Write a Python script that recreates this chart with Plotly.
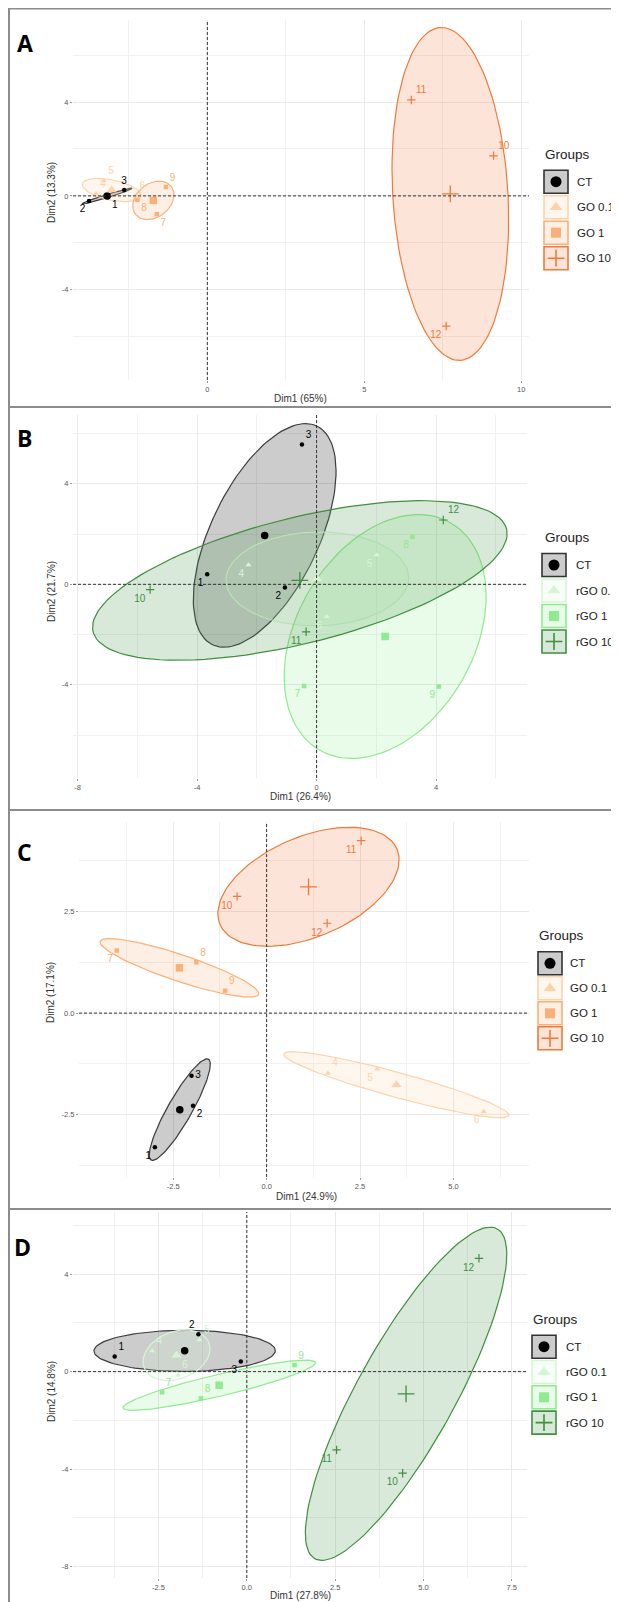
import numpy as np
import plotly.graph_objects as go

W, H = 619, 1602          # page (reference) size
OFF = 8                   # browser body margin
WF, HF = W - OFF, H - OFF  # figure size so that the page is filled exactly

# ---------------- data ----------------
CT_labels = ["1", "2", "3"]
T01_labels = ["4", "5", "6"]
T1_labels = ["7", "8", "9"]
T10_labels = ["10", "11", "12"]

GO_groups = ["CT", "GO 0.1", "GO 1", "GO 10"]
RGO_groups = ["CT", "rGO 0.1", "rGO 1", "rGO 10"]

# Panel A  (GO, Dim1 65%, Dim2 13.3%)
A_ct_x = [-3.16, -3.77, -2.65]
A_ct_y = [-0.05, -0.22, 0.25]
A_go01_x = [-3.55, -3.30, -2.30]
A_go01_y = [0.10, 0.65, 0.00]
A_go1_x = [-1.61, -2.23, -1.32]
A_go1_y = [-0.78, -0.17, 0.38]
A_go10_x = [9.12, 6.50, 7.61]
A_go10_y = [1.71, 4.09, -5.55]

# Panel B  (rGO, Dim1 26.4%, Dim2 21.7%)
B_ct_x = [-3.66, -1.06, -0.49]
B_ct_y = [0.40, -0.13, 5.57]
B_rgo01_x = [-2.28, 2.01, 0.34]
B_rgo01_y = [0.77, 1.17, -1.29]
B_rgo1_x = [-0.42, 3.21, 4.09]
B_rgo1_y = [-4.05, 1.89, -4.07]
B_rgo10_x = [-5.57, -0.35, 4.24]
B_rgo10_y = [-0.21, -1.89, 2.56]

# Panel C  (GO, Dim1 24.9%, Dim2 17.1%)
C_ct_x = [-2.99, -1.97, -2.01]
C_ct_y = [-3.30, -2.28, -1.54]
C_go01_x = [1.64, 2.96, 5.81]
C_go01_y = [-1.48, -1.38, -2.42]
C_go1_x = [-4.01, -1.88, -1.11]
C_go1_y = [1.54, 1.25, 0.55]
C_go10_x = [-0.79, 2.53, 1.62]
C_go10_y = [2.87, 4.24, 2.21]

# Panel D  (rGO, Dim1 27.8%, Dim2 14.8%)
D_ct_x = [-3.74, -1.37, -0.17]
D_ct_y = [0.62, 1.53, 0.41]
D_rgo01_x = [-2.68, -1.34, -1.95]
D_rgo01_y = [0.85, 1.30, -0.14]
D_rgo1_x = [-2.40, -1.30, 1.35]
D_rgo1_y = [-0.85, -1.10, 0.27]
D_rgo10_x = [4.41, 2.54, 6.57]
D_rgo10_y = [-4.17, -3.21, 4.65]

# tick labels
A_xticks = [0, 5, 10]
A_xtext = ["0", "5", "10"]
A_yticks = [-4, 0, 4]
A_ytext = ["-4", "0", "4"]
B_xticks = [-8, -4, 0, 4]
B_xtext = ["-8", "-4", "0", "4"]
B_yticks = [-4, 0, 4]
B_ytext = ["-4", "0", "4"]
C_xticks = [-2.5, 0, 2.5, 5]
C_xtext = ["-2.5", "0.0", "2.5", "5.0"]
C_yticks = [-2.5, 0, 2.5]
C_ytext = ["-2.5", "0.0", "2.5"]
D_xticks = [-2.5, 0, 2.5, 5, 7.5]
D_xtext = ["-2.5", "0.0", "2.5", "5.0", "7.5"]
D_yticks = [-8, -4, 0, 4]
D_ytext = ["-8", "-4", "0", "4"]

# ---------------- styles ----------------
GO_colors = ["#000000", "#fdd3ac", "#fbb077", "#ef7a3b"]
RGO_colors = ["#000000", "#d6f5d6", "#90ea90", "#3f8f3f"]
SYMBOLS = ["circle", "triangle-up", "square", "cross-thin"]
PT_SIZE = [4.5, 5.5, 4.5, 6]
MEAN_SIZE = [7.5, 9, 7.5, 12]
KEY_SIZE = [11, 11, 10, 12]
FONT = "Liberation Sans, Arial, sans-serif"

R_CONF = np.sqrt(5.991464547107979 / 3.0)  # 95% confidence ellipse, n = 3


def rgba(hexc, a):
    h = hexc.lstrip("#")
    r, g, b = int(h[0:2], 16), int(h[2:4], 16), int(h[4:6], 16)
    return f"rgba({r},{g},{b},{a})"


def conf_ellipse(x, y, r=R_CONF, n=120):
    x = np.asarray(x, float)
    y = np.asarray(y, float)
    m = np.array([x.mean(), y.mean()])
    cov = np.cov(np.vstack([x, y]))
    vals, vecs = np.linalg.eigh(cov)
    vals = np.clip(vals, 0, None)
    t = np.linspace(0, 2 * np.pi, n)
    circ = np.vstack([np.cos(t), np.sin(t)])
    pts = vecs @ (np.sqrt(vals)[:, None] * circ) * r + m[:, None]
    return pts[0], pts[1]


def PX(px):
    return (px - OFF) / WF


def PY(py):
    return 1 - (py - OFF) / HF


panels = [
    dict(letter="A", letter_pos=(25, 43), box=(73, 20, 529, 380),
         xr=[-4.28, 10.25], yr=[-7.85, 7.50],
         groups=GO_groups, colors=GO_colors,
         data=[(A_ct_x, A_ct_y), (A_go01_x, A_go01_y), (A_go1_x, A_go1_y), (A_go10_x, A_go10_y)],
         labels=[CT_labels, T01_labels, T1_labels, T10_labels],
         labpos=[["bottom right", "bottom left", "top center"],
                 ["top right", "top right", "top right"],
                 ["bottom right", "bottom right", "top right"],
                 ["top right", "top right", "bottom left"]],
         xt=(A_xticks, A_xtext), yt=(A_yticks, A_ytext), xminor=2.5, yminor=2,
         xtitle="Dim1 (65%)", ytitle="Dim2 (13.3%)", xtp=(300, 398), ytp=(51, 193),
         leg=dict(title=(543, 154), items=[181.7, 207.2, 232.7, 258.2], bx=544, tx=575)),
    dict(letter="B", letter_pos=(24, 438), box=(73, 415, 527, 778),
         xr=[-8.15, 7.04], yr=[-7.71, 6.74],
         groups=RGO_groups, colors=RGO_colors,
         data=[(B_ct_x, B_ct_y), (B_rgo01_x, B_rgo01_y), (B_rgo1_x, B_rgo1_y), (B_rgo10_x, B_rgo10_y)],
         labels=[CT_labels, T01_labels, T1_labels, T10_labels],
         labpos=[["bottom left", "bottom left", "top right"],
                 ["bottom left", "bottom left", "bottom left"],
                 ["bottom left", "bottom left", "bottom left"],
                 ["bottom left", "bottom left", "top right"]],
         xt=(B_xticks, B_xtext), yt=(B_yticks, B_ytext), xminor=2, yminor=2,
         xtitle="Dim1 (26.4%)", ytitle="Dim2 (21.7%)", xtp=(300, 797), ytp=(51, 592),
         leg=dict(title=(543, 537), items=[565, 590.5, 616, 641.5], bx=542, tx=574)),
    dict(letter="C", letter_pos=(24, 852), box=(79, 822, 529, 1177),
         xr=[-5.02, 7.02], yr=[-4.03, 4.70],
         groups=GO_groups, colors=GO_colors,
         data=[(C_ct_x, C_ct_y), (C_go01_x, C_go01_y), (C_go1_x, C_go1_y), (C_go10_x, C_go10_y)],
         labels=[CT_labels, T01_labels, T1_labels, T10_labels],
         labpos=[["bottom left", "bottom right", "middle right"],
                 ["top right", "bottom left", "bottom left"],
                 ["bottom left", "top right", "top right"],
                 ["bottom left", "bottom left", "bottom left"]],
         xt=(C_xticks, C_xtext), yt=(C_yticks, C_ytext), xminor=1.25, yminor=1.25,
         xtitle="Dim1 (24.9%)", ytitle="Dim2 (17.1%)", xtp=(306, 1196), ytp=(51, 993),
         leg=dict(title=(537, 935), items=[963.3, 988.3, 1013.3, 1038.3], bx=538, tx=568)),
    dict(letter="D", letter_pos=(22, 1247), box=(73, 1212, 527, 1578),
         xr=[-4.92, 7.93], yr=[-8.47, 6.55],
         groups=RGO_groups, colors=RGO_colors,
         data=[(D_ct_x, D_ct_y), (D_rgo01_x, D_rgo01_y), (D_rgo1_x, D_rgo1_y), (D_rgo10_x, D_rgo10_y)],
         labels=[CT_labels, T01_labels, T1_labels, T10_labels],
         labpos=[["top right", "top left", "bottom left"],
                 ["top right", "top right", "top right"],
                 ["top right", "top right", "top right"],
                 ["bottom left", "bottom left", "bottom left"]],
         xt=(D_xticks, D_xtext), yt=(D_yticks, D_ytext), xminor=1.25, yminor=2,
         xtitle="Dim1 (27.8%)", ytitle="Dim2 (14.8%)", xtp=(300, 1595), ytp=(51, 1392),
         leg=dict(title=(531, 1319), items=[1346.7, 1372, 1397.3, 1422.6], bx=532, tx=564)),
]

fig = go.Figure()
shapes = []
annotations = []
layout_axes = {}

# panel frames
frames = [(9, 8.5, 407), (9, 407, 810), (9, 810, 1209), (9, 1209, 1610)]
for x0, y0, y1 in frames:
    shapes.append(dict(type="rect", xref="paper", yref="paper",
                       x0=PX(x0), x1=PX(W + 10), y0=PY(y1), y1=PY(y0),
                       line=dict(color="#8c8c8c", width=2), fillcolor="rgba(0,0,0,0)",
                       layer="above"))

for i, p in enumerate(panels):
    n = i + 1
    xa = "x" if n == 1 else f"x{n}"
    ya = "y" if n == 1 else f"y{n}"
    xk = "xaxis" if n == 1 else f"xaxis{n}"
    yk = "yaxis" if n == 1 else f"yaxis{n}"
    bx0, by0, bx1, by1 = p["box"]
    common = dict(showgrid=True, gridcolor="#e9e9e9", gridwidth=1, zeroline=False,
                  showline=False, ticks="outside", ticklen=2, tickcolor="#999999",
                  tickwidth=1, tickfont=dict(size=7.5, color="#555555", family=FONT),
                  tickmode="array", fixedrange=True)
    layout_axes[xk] = dict(common, domain=[PX(bx0), PX(bx1)], range=p["xr"], anchor=ya,
                           tickvals=p["xt"][0], ticktext=p["xt"][1],
                           minor=dict(tick0=0, dtick=p["xminor"], showgrid=True,
                                      gridcolor="#f1f1f1", gridwidth=1, ticks=""))
    layout_axes[yk] = dict(common, domain=[PY(by1), PY(by0)], range=p["yr"], anchor=xa,
                           tickvals=p["yt"][0], ticktext=p["yt"][1],
                           minor=dict(tick0=0, dtick=p["yminor"], showgrid=True,
                                      gridcolor="#f1f1f1", gridwidth=1, ticks=""))

    # ellipses
    for g, (gx, gy) in enumerate(p["data"]):
        col = p["colors"][g]
        ex, ey = conf_ellipse(gx, gy)
        lc = "#3c3c3c" if g == 0 else col
        fig.add_trace(go.Scatter(x=ex, y=ey, mode="lines", fill="toself",
                                 fillcolor=rgba(col, 0.2), line=dict(color=lc, width=1.2),
                                 xaxis=xa, yaxis=ya, showlegend=False, hoverinfo="skip"))

    # zero lines
    shapes.append(dict(type="line", xref=xa, yref=f"{ya} domain", x0=0, x1=0, y0=0, y1=1,
                       line=dict(color="#333333", width=1, dash="3px,2px")))
    shapes.append(dict(type="line", xref=f"{xa} domain", yref=ya, x0=0, x1=1, y0=0, y1=0,
                       line=dict(color="#333333", width=1, dash="3px,2px")))

    # individual points and labels
    for g, (gx, gy) in enumerate(p["data"]):
        col = p["colors"][g]
        sym = SYMBOLS[g]
        mline = dict(color=col, width=1.2) if sym == "cross-thin" else dict(width=0)
        fig.add_trace(go.Scatter(x=gx, y=gy, mode="markers+text", text=p["labels"][g],
                                 textposition=p["labpos"][g],
                                 textfont=dict(size=10, color=col, family=FONT),
                                 marker=dict(symbol=sym, size=PT_SIZE[g], color=col, line=mline),
                                 xaxis=xa, yaxis=ya, showlegend=False, hoverinfo="skip",
                                 cliponaxis=False))
    # group means
    for g, (gx, gy) in enumerate(p["data"]):
        col = p["colors"][g]
        sym = SYMBOLS[g]
        mline = dict(color=col, width=1.3) if sym == "cross-thin" else dict(width=0)
        fig.add_trace(go.Scatter(x=[float(np.mean(gx))], y=[float(np.mean(gy))], mode="markers",
                                 marker=dict(symbol=sym, size=MEAN_SIZE[g], color=col, line=mline),
                                 xaxis=xa, yaxis=ya, showlegend=False, hoverinfo="skip"))

    # panel letter
    lx, ly = p["letter_pos"]
    annotations.append(dict(text=f"<b>{p['letter']}</b>", x=PX(lx), y=PY(ly), xref="paper",
                            yref="paper", showarrow=False, xanchor="center", yanchor="middle",
                            font=dict(size=23, color="#000000", family="Open Sans, Liberation Sans")))
    # axis titles
    annotations.append(dict(text=p["xtitle"], x=PX(p["xtp"][0]), y=PY(p["xtp"][1]), xref="paper",
                            yref="paper", showarrow=False, xanchor="center", yanchor="middle",
                            font=dict(size=10, color="#333333", family=FONT)))
    annotations.append(dict(text=p["ytitle"], x=PX(p["ytp"][0]), y=PY(p["ytp"][1]), xref="paper",
                            yref="paper", showarrow=False, xanchor="center", yanchor="middle",
                            textangle=-90, font=dict(size=10, color="#333333", family=FONT)))

    # legend (drawn manually: ggplot-like keys)
    L = p["leg"]
    annotations.append(dict(text="Groups", x=PX(L["title"][0]), y=PY(L["title"][1]), xref="paper",
                            yref="paper", showarrow=False, xanchor="left", yanchor="middle",
                            font=dict(size=13.5, color="#222222", family=FONT)))
    for g, gname in enumerate(p["groups"]):
        col = p["colors"][g]
        cy = L["items"][g]
        bxl = L["bx"]
        border = "#333333" if g == 0 else col
        shapes.append(dict(type="rect", xref="paper", yref="paper",
                           x0=PX(bxl), x1=PX(bxl + 24), y0=PY(cy + 11.5), y1=PY(cy - 11.5),
                           line=dict(color=border, width=1.6), fillcolor=rgba(col, 0.2)))
        annotations.append(dict(text=gname, x=PX(L["tx"]), y=PY(cy), xref="paper", yref="paper",
                                showarrow=False, xanchor="left", yanchor="middle",
                                font=dict(size=11.5, color="#222222", family=FONT)))
        sym = SYMBOLS[g]
        mline = dict(color=col, width=1.6) if sym == "cross-thin" else dict(width=0)
        fig.add_trace(go.Scatter(x=[bxl + 12], y=[cy], mode="markers",
                                 marker=dict(symbol=sym, size=KEY_SIZE[g], color=col,
                                             line=mline),
                                 xaxis="x5", yaxis="y5", showlegend=False, hoverinfo="skip"))

layout_axes["xaxis5"] = dict(domain=[0, 1], range=[OFF, OFF + WF], visible=False,
                             fixedrange=True, anchor="y5")
layout_axes["yaxis5"] = dict(domain=[0, 1], range=[OFF + HF, OFF], visible=False,
                             fixedrange=True, anchor="x5")

fig.update_layout(
    width=WF, height=HF,
    margin=dict(l=0, r=0, t=0, b=0),
    paper_bgcolor="#ffffff",
    plot_bgcolor="rgba(0,0,0,0)",
    showlegend=False,
    shapes=shapes,
    annotations=annotations,
    font=dict(family=FONT),
    **layout_axes,
)

fig.write_html("out.html")
